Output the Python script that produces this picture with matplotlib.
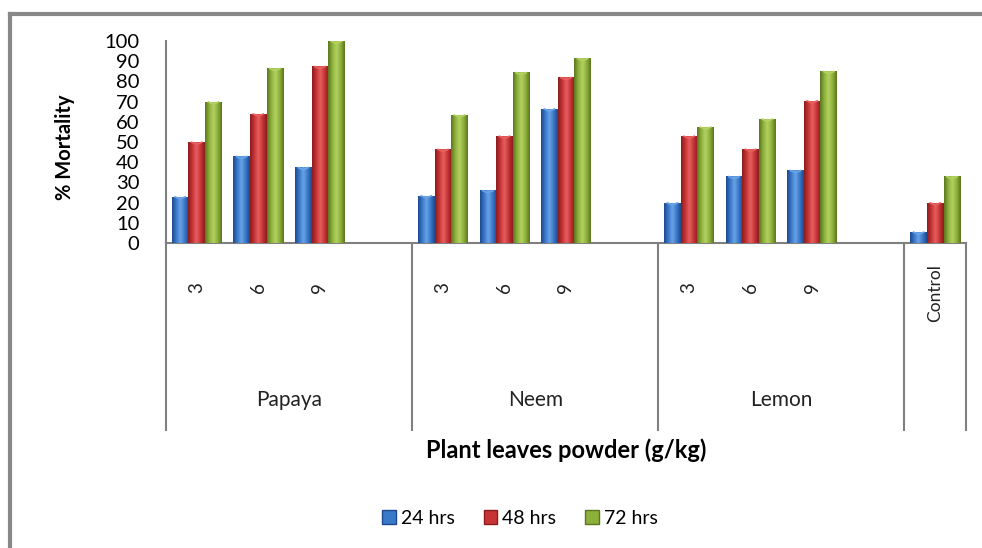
import matplotlib.pyplot as plt
import numpy as np
from matplotlib.colors import LinearSegmentedColormap
from matplotlib.lines import Line2D
from matplotlib.patches import Patch
from matplotlib.transforms import blended_transform_factory

plt.rcParams['font.family'] = ['Lato', 'DejaVu Sans']

plants = ['Papaya', 'Neem', 'Lemon']
doses = ['3', '6', '9']
control_label = 'Control'
series = ['24 hrs', '48 hrs', '72 hrs']

# % mortality per dose, plant by plant, then control
mort_24 = [23, 43, 37.5, 23.5, 26, 66.5, 20, 33, 36, 5.5]
mort_48 = [50, 64, 87.5, 46.5, 53, 82, 53, 46.5, 70.5, 20]
mort_72 = [70, 86.5, 100, 63.5, 84.5, 91.5, 57.5, 61.5, 85, 33]

# (dark edge, highlight, base) for the cylinder-ish shading
shades = [
    ('#1d4a8f', '#6aa3e6', '#3a78c8'),
    ('#8a1c1c', '#e86060', '#c63436'),
    ('#5a7620', '#b4d264', '#8db03a'),
]

# 13 slots: 3 doses + a blank for each plant, then the control slot
slots = []
for g in range(len(plants)):
    slots += [4 * g + i for i in range(len(doses))]
slots.append(4 * len(plants))
slots = np.array(slots, dtype=float)

fig = plt.figure(figsize=(9.82, 5.48), dpi=100)
W, H = 982, 548
ax = fig.add_axes([166 / W, 1 - 243 / H, 800 / W, 202 / H])

bw = 0.27
offsets = [-bw, 0, bw]
for k, vals in enumerate([mort_24, mort_48, mort_72]):
    dark, light, base = shades[k]
    cmap = LinearSegmentedColormap.from_list('bar%d' % k, [dark, base, light, base, dark])
    grad = np.linspace(0, 1, 64).reshape(1, -1)
    bars = ax.bar(slots + offsets[k], vals, width=bw, color=base, zorder=2, linewidth=0)
    for b in bars:
        x0, h = b.get_x(), b.get_height()
        im = ax.imshow(grad, cmap=cmap, extent=(x0, x0 + bw, 0, h), aspect='auto',
                       zorder=3, interpolation='bicubic')
        im.set_clip_path(b)
        # lighter cap on top of each column
        ax.plot([x0 + bw * 0.15, x0 + bw * 0.5, x0 + bw * 0.85], [h, h - 1.2, h],
                color=light, lw=1.2, zorder=4, solid_capstyle='butt')

ax.set_xlim(-0.5, 12.5)
ax.set_ylim(0, 100)
ax.set_yticks(np.arange(0, 101, 10))
ax.tick_params(axis='y', length=0, pad=19, labelsize=14.5)
ax.set_xticks([])
for s in ['top', 'right']:
    ax.spines[s].set_visible(False)
ax.spines['left'].set_color('#808080')
ax.spines['bottom'].set_color('#808080')
ax.spines['left'].set_linewidth(1.5)
ax.spines['bottom'].set_linewidth(1.5)

trans = blended_transform_factory(ax.transData, fig.transFigure)
for x, lab in zip(slots[:-1], doses * len(plants)):
    ax.text(x, 1 - 288 / H, lab, transform=trans, rotation=90, ha='center', va='center',
            fontsize=13.5, color='#222222')
ax.text(slots[-1], 1 - 293 / H, control_label, transform=trans, rotation=90,
        ha='center', va='center', fontsize=12.5, color='#222222')

# group dividers under the axis
for xd in [-0.5, 3.5, 7.5, 11.5, 12.5]:
    ax.add_artist(Line2D([xd, xd], [1 - 243 / H, 1 - 430 / H], transform=trans,
                         color='#808080', lw=1.5, clip_on=False))
for g, name in enumerate(plants):
    ax.text(4 * g + 1.5, 1 - 400 / H, name, transform=trans, ha='center', va='center',
            fontsize=15, color='#222222')

fig.text(566 / W, 1 - 450 / H, 'Plant leaves powder (g/kg)', ha='center', va='center',
         fontsize=17, fontweight='bold')
fig.text(65 / W, 1 - 147 / H, '% Mortality', rotation=90, ha='center', va='center',
         fontsize=14.5, fontweight='bold')

handles = [Patch(facecolor=shades[k][2], edgecolor=shades[k][0], label=series[k]) for k in range(3)]
fig.legend(handles=handles, loc='center', bbox_to_anchor=(520 / W, 1 - 518 / H), ncol=3,
           frameon=False, fontsize=14, handlelength=0.7, handleheight=0.7,
           handletextpad=0.25, columnspacing=1.5)

# outer frame, only top and left edges fall inside the image
fig.add_artist(Line2D([10 / W, 1], [1 - 14 / H, 1 - 14 / H], color='#888888', lw=3))
fig.add_artist(Line2D([10 / W, 10 / W], [0, 1 - 14 / H], color='#888888', lw=3))

fig.savefig('out.png', dpi=100)
